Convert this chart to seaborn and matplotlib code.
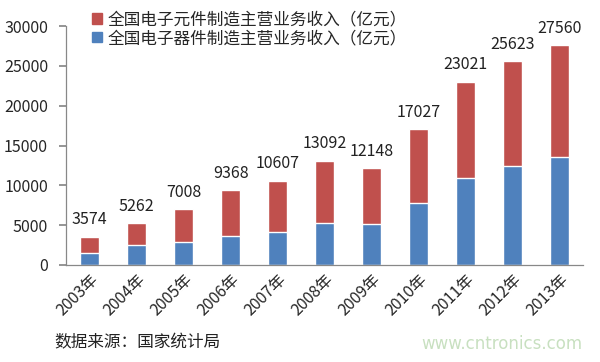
import matplotlib
matplotlib.use("Agg")
import matplotlib.pyplot as plt
import seaborn as sns
import pandas as pd
import numpy as np
from matplotlib.patches import Patch

years = ["2003年", "2004年", "2005年", "2006年", "2007年", "2008年",
         "2009年", "2010年", "2011年", "2012年", "2013年"]
totals = [3574, 5262, 7008, 9368, 10607, 13092, 12148, 17027, 23021, 25623, 27560]
device_income = [1470, 2510, 2930, 3640, 4140, 5270, 5150, 7820, 10950, 12420, 13590]
component_label = "全国电子元件制造主营业务收入（亿元）"
device_label = "全国电子器件制造主营业务收入（亿元）"
y_ticks = [0, 5000, 10000, 15000, 20000, 25000, 30000]

sns.set_theme(style="white")
plt.rcParams['font.family'] = ['Noto Sans CJK SC', 'DejaVu Sans']

df = pd.DataFrame({"year": years, "total": totals, "device": device_income})

fig = plt.figure(figsize=(6.0, 3.62), dpi=100)
ax = fig.add_axes([0.11, 0.268, 0.862, 0.66])

red = "#C0504D"
blue = "#4F81BD"
sns.barplot(data=df, x="year", y="total", color=red, width=0.41,
            saturation=1, ax=ax)
sns.barplot(data=df, x="year", y="device", color=blue, width=0.41,
            saturation=1, ax=ax)

ax.bar_label(ax.containers[0], labels=[str(v) for v in totals],
             padding=6, fontsize=11.5, color="#222222")

ax.set_ylim(0, 30000)
ax.set_xlim(-0.5, len(years) - 0.5)
ax.set_yticks(y_ticks)
ax.set_yticklabels([str(t) for t in y_ticks], fontsize=11.5)
ax.set_xlabel("")
ax.set_ylabel("")
ax.set_xticks(range(len(years)))
ax.set_xticklabels(years, rotation=45, ha="right", rotation_mode="anchor",
                   fontsize=11.5)
ax.tick_params(axis="x", length=0, pad=4)
ax.set_xticks(np.arange(-0.5, len(years), 1), minor=True)
ax.tick_params(axis="x", which="minor", length=5, color="#888888", direction="out")
ax.tick_params(axis="y", length=5, color="#888888", direction="out", left=True, pad=8)

for s in ["top", "right"]:
    ax.spines[s].set_visible(False)
for s in ["left", "bottom"]:
    ax.spines[s].set_color("#888888")
    ax.spines[s].set_linewidth(0.9)

handles = [Patch(color=red, label=component_label),
           Patch(color=blue, label=device_label)]
fig.legend(handles=handles, loc="upper left", bbox_to_anchor=(0.128, 1.01),
           frameon=False, fontsize=12, handlelength=0.6, handleheight=0.6,
           handletextpad=0.35, labelspacing=0.1)

fig.text(0.09, 0.04, "数据来源：国家统计局", fontsize=12, color="#222222")
fig.text(0.97, 0.035, "www.cntronics.com", fontsize=12, color="#c8e0c0",
         ha="right", family=["DejaVu Sans"])

fig.savefig("out.png", dpi=100)
